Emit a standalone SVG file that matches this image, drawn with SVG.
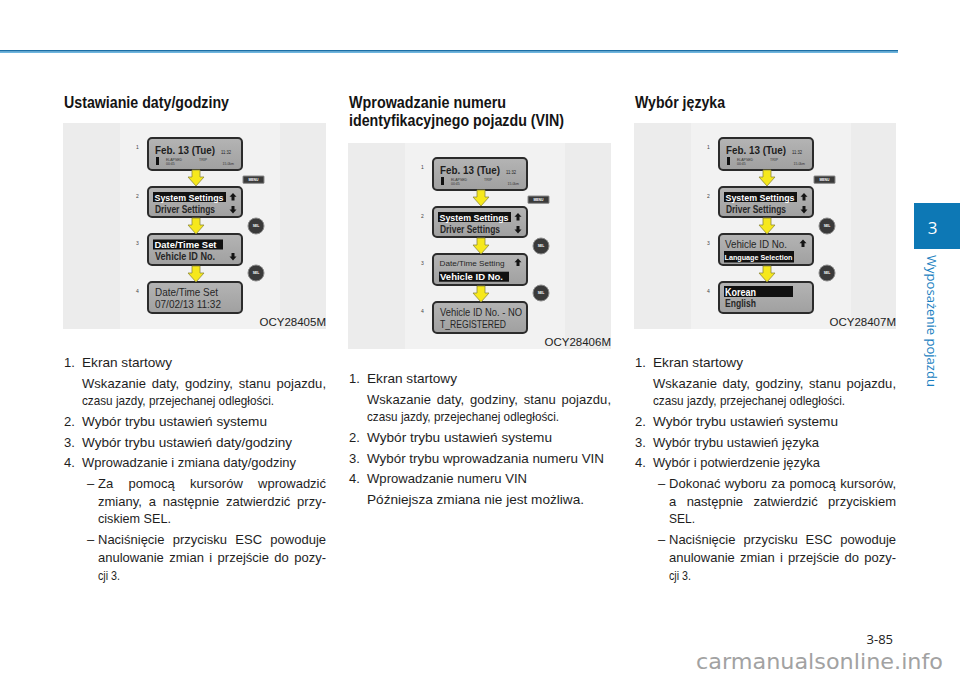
<svg xmlns="http://www.w3.org/2000/svg" width="960" height="677" viewBox="0 0 960 677">
<style>
text{font-family:"Liberation Sans",Arial,sans-serif}
.h{font-weight:bold;font-size:16.5px;fill:#141414}
.b{font-size:13px;fill:#1e1e1e}
.bg{fill:#ececec}
.bgi{fill:#f2f2f2}
.scr{fill:url(#lcd);stroke:#2b2b2b;stroke-width:2}
.st{fill:#262626;font-weight:bold;font-size:10px}
.sr{fill:#262626;font-size:10.5px}
.hl{fill:#111}
.wt{fill:#fff;font-weight:bold;font-size:9.5px}
.tiny{font-size:3.5px;fill:#333}
.num{font-size:5px;fill:#444}
.code{font-size:11.5px;fill:#222}
.btn{fill:#3a3a3a;stroke:#8a8a8a;stroke-width:1}
.btxt{font-size:3.4px;fill:#fff;font-weight:bold}
.ya{fill:#f6e81c;stroke:#8f8a3a;stroke-width:0.8}
.ba{fill:#141414}
</style>
<defs>
<linearGradient id="lcd" x1="0" y1="0" x2="0" y2="1">
<stop offset="0" stop-color="#b4b4b4"/>
<stop offset="1" stop-color="#a0a0a0"/>
</linearGradient>
<path id="yarrow" class="ya" d="M-4,0 h8 v7 h4 l-8,9 l-8,-9 h4 z"/>
<path id="uparr" class="ba" d="M0,0 l3.5,3.8 h-2 v3.6 h-3 v-3.6 h-2 z"/>
<path id="dnarr" class="ba" d="M0,7.4 l3.5,-3.8 h-2 v-3.6 h-3 v3.6 h-2 z"/>
<g id="menu"><rect class="btn" x="0" y="0" width="21" height="7.3" rx="0.5"/><text class="btxt" x="10.5" y="4.9" text-anchor="middle">MENU</text></g>
<g id="sel"><circle class="btn" cx="0" cy="0" r="8"/><text class="btxt" x="0" y="1.2" text-anchor="middle">SEL</text></g>
</defs>

<rect x="0" y="50" width="898" height="1.6" fill="#1b6fa6"/>
<rect x="0" y="51.6" width="898" height="1.2" fill="#4aa3d8"/>

<g id="headings">
<text class="h" x="64" y="108" textLength="165" lengthAdjust="spacingAndGlyphs">Ustawianie daty/godziny</text>
<text class="h" x="349" y="108" textLength="157" lengthAdjust="spacingAndGlyphs">Wprowadzanie numeru</text>
<text class="h" x="349" y="126" textLength="215" lengthAdjust="spacingAndGlyphs">identyfikacyjnego pojazdu (VIN)</text>
<text class="h" x="635" y="108" textLength="90" lengthAdjust="spacingAndGlyphs">Wybór języka</text>
</g>

<!-- Panel 1 -->
<g id="panel1" transform="translate(63,123)">
<rect class="bg" x="0" y="0" width="263" height="206"/>
<rect class="bgi" x="57" y="0" width="160" height="206"/>
<text class="num" x="73" y="26">1</text>
<text class="num" x="73" y="75">2</text>
<text class="num" x="73" y="122">3</text>
<text class="num" x="73" y="170">4</text>
<g id="p1s1">
<rect class="scr" x="85" y="15" width="94" height="32" rx="4"/>
<text x="92" y="31" style="font-size:11px;font-weight:bold;fill:#1e1e1e" textLength="60" lengthAdjust="spacingAndGlyphs">Feb. 13 (Tue)</text>
<text x="158" y="30.5" style="font-size:5px;fill:#222" textLength="10" lengthAdjust="spacingAndGlyphs">11:32</text>
<rect x="93" y="34" width="3" height="8" fill="#111"/>
<text class="tiny" x="103" y="37.5">ELAPSED</text>
<text class="tiny" x="103" y="41.5">00:45</text>
<text class="tiny" x="136" y="37.5">TRIP</text>
<text class="tiny" x="171" y="41.5" text-anchor="end">15.0km</text>
</g>
<g id="p1s2">
<rect class="scr" x="85" y="64" width="94" height="30" rx="4"/>
<rect class="hl" x="90" y="69" width="73" height="10"/>
<text class="wt" x="91.5" y="77.5" textLength="69" lengthAdjust="spacingAndGlyphs">System Settings</text>
<text class="st" x="92" y="89.5" textLength="60" lengthAdjust="spacingAndGlyphs">Driver Settings</text>
<use href="#uparr" x="170" y="70"/>
<use href="#dnarr" x="170" y="83"/>
</g>
<g id="p1s3">
<rect class="scr" x="85" y="111" width="94" height="31" rx="4"/>
<rect class="hl" x="90" y="116.5" width="70" height="10"/>
<text class="wt" x="91.5" y="125" textLength="62" lengthAdjust="spacingAndGlyphs">Date/Time Set</text>
<text class="st" x="92" y="137" textLength="60" lengthAdjust="spacingAndGlyphs">Vehicle ID No.</text>
<use href="#dnarr" x="170" y="130"/>
</g>
<g id="p1s4">
<rect class="scr" x="85" y="159" width="94" height="31" rx="4"/>
<text class="sr" x="92" y="173" textLength="63" lengthAdjust="spacingAndGlyphs">Date/Time Set</text>
<text class="sr" x="92" y="185" textLength="66" lengthAdjust="spacingAndGlyphs">07/02/13 11:32</text>
</g>
<use href="#menu" x="180" y="53"/>
<use href="#sel" x="193" y="103"/>
<use href="#sel" x="193" y="150"/>
<g id="p1conn">
<use href="#yarrow" x="133" y="47"/>
<use href="#yarrow" x="133" y="95"/>
<use href="#yarrow" x="133" y="143"/>
</g>
<text class="code" x="263" y="202.5" text-anchor="end">OCY28405M</text>
</g>

<!-- Panel 2 -->
<g id="panel2" transform="translate(348,143)">
<rect class="bg" x="0" y="0" width="263" height="206"/>
<rect class="bgi" x="57" y="0" width="160" height="206"/>
<text class="num" x="73" y="26">1</text>
<text class="num" x="73" y="75">2</text>
<text class="num" x="73" y="122">3</text>
<text class="num" x="73" y="170">4</text>
<g id="p2s1">
<rect class="scr" x="85" y="15" width="94" height="32" rx="4"/>
<text x="92" y="31" style="font-size:11px;font-weight:bold;fill:#1e1e1e" textLength="60" lengthAdjust="spacingAndGlyphs">Feb. 13 (Tue)</text>
<text x="158" y="30.5" style="font-size:5px;fill:#222" textLength="10" lengthAdjust="spacingAndGlyphs">11:32</text>
<rect x="93" y="34" width="3" height="8" fill="#111"/>
<text class="tiny" x="103" y="37.5">ELAPSED</text>
<text class="tiny" x="103" y="41.5">00:45</text>
<text class="tiny" x="136" y="37.5">TRIP</text>
<text class="tiny" x="171" y="41.5" text-anchor="end">15.0km</text>
</g>
<g id="p2s2">
<rect class="scr" x="85" y="64" width="94" height="30" rx="4"/>
<rect class="hl" x="90" y="69" width="73" height="10"/>
<text class="wt" x="91.5" y="77.5" textLength="69" lengthAdjust="spacingAndGlyphs">System Settings</text>
<text class="st" x="92" y="89.5" textLength="60" lengthAdjust="spacingAndGlyphs">Driver Settings</text>
<use href="#uparr" x="170" y="70"/>
<use href="#dnarr" x="170" y="83"/>
</g>
<g id="p2s3">
<rect class="scr" x="85" y="111" width="94" height="31" rx="4"/>
<text x="91.5" y="123" style="font-size:7.5px;fill:#262626" textLength="65" lengthAdjust="spacingAndGlyphs">Date/Time Setting</text>
<use href="#uparr" x="170" y="115.5"/>
<rect class="hl" x="91" y="128.7" width="70" height="10"/>
<text class="wt" x="92" y="137" textLength="63" lengthAdjust="spacingAndGlyphs">Vehicle ID No.</text>
</g>
<g id="p2s4">
<rect class="scr" x="85" y="159" width="94" height="31" rx="4"/>
<text class="sr" x="92" y="173" textLength="82" lengthAdjust="spacingAndGlyphs">Vehicle ID No. - NO</text>
<text class="sr" x="92" y="185" textLength="66" lengthAdjust="spacingAndGlyphs">T_REGISTERED</text>
</g>
<use href="#menu" x="180" y="53"/>
<use href="#sel" x="193" y="103"/>
<use href="#sel" x="193" y="150"/>
<g id="p2conn">
<use href="#yarrow" x="133" y="47"/>
<use href="#yarrow" x="133" y="95"/>
<use href="#yarrow" x="133" y="143"/>
</g>
<text class="code" x="263" y="202.5" text-anchor="end">OCY28406M</text>
</g>

<!-- Panel 3 -->
<g id="panel3" transform="translate(634,123)">
<rect class="bg" x="0" y="0" width="262" height="206"/>
<rect class="bgi" x="57" y="0" width="160" height="206"/>
<text class="num" x="73" y="26">1</text>
<text class="num" x="73" y="75">2</text>
<text class="num" x="73" y="122">3</text>
<text class="num" x="73" y="170">4</text>
<g id="p3s1">
<rect class="scr" x="85" y="15" width="94" height="32" rx="4"/>
<text x="92" y="31" style="font-size:11px;font-weight:bold;fill:#1e1e1e" textLength="60" lengthAdjust="spacingAndGlyphs">Feb. 13 (Tue)</text>
<text x="158" y="30.5" style="font-size:5px;fill:#222" textLength="10" lengthAdjust="spacingAndGlyphs">11:32</text>
<rect x="93" y="34" width="3" height="8" fill="#111"/>
<text class="tiny" x="103" y="37.5">ELAPSED</text>
<text class="tiny" x="103" y="41.5">00:45</text>
<text class="tiny" x="136" y="37.5">TRIP</text>
<text class="tiny" x="171" y="41.5" text-anchor="end">15.0km</text>
</g>
<g id="p3s2">
<rect class="scr" x="85" y="64" width="94" height="30" rx="4"/>
<rect class="hl" x="90" y="69" width="73" height="10"/>
<text class="wt" x="91.5" y="77.5" textLength="69" lengthAdjust="spacingAndGlyphs">System Settings</text>
<text class="st" x="92" y="89.5" textLength="60" lengthAdjust="spacingAndGlyphs">Driver Settings</text>
<use href="#uparr" x="170" y="70"/>
<use href="#dnarr" x="170" y="83"/>
</g>
<g id="p3s3">
<rect class="scr" x="85" y="111" width="94" height="31" rx="4"/>
<text class="sr" x="91" y="125" textLength="62" lengthAdjust="spacingAndGlyphs">Vehicle ID No.</text>
<use href="#uparr" x="169" y="116.5"/>
<rect class="hl" x="90" y="128" width="70" height="11.5"/>
<text class="wt" x="90.5" y="137" style="font-size:7.5px" textLength="68" lengthAdjust="spacingAndGlyphs">Language Selection</text>
</g>
<g id="p3s4">
<rect class="scr" x="85" y="159" width="94" height="31" rx="4"/>
<rect class="hl" x="90" y="163" width="69" height="11"/>
<text class="wt" x="91" y="172.5" style="font-size:10px" textLength="31" lengthAdjust="spacingAndGlyphs">Korean</text>
<text class="st" x="91" y="184" textLength="31" lengthAdjust="spacingAndGlyphs">English</text>
</g>
<use href="#menu" x="180" y="53"/>
<use href="#sel" x="193" y="103"/>
<use href="#sel" x="193" y="150"/>
<g id="p3conn">
<use href="#yarrow" x="133" y="47"/>
<use href="#yarrow" x="133" y="95"/>
<use href="#yarrow" x="133" y="143"/>
</g>
<text class="code" x="262" y="202.5" text-anchor="end">OCY28407M</text>
</g>

<!-- Column 1 text -->
<g id="col1">
<text class="b" x="64" y="367">1.</text>
<text class="b" x="82" y="367" textLength="90" lengthAdjust="spacingAndGlyphs">Ekran startowy</text>
<text class="b" x="82" y="388" style="word-spacing:2.1px" textLength="244" lengthAdjust="spacing">Wskazanie daty, godziny, stanu pojazdu,</text>
<text class="b" x="82" y="405" textLength="192" lengthAdjust="spacingAndGlyphs">czasu jazdy, przejechanej odległości.</text>
<text class="b" x="64" y="426">2.</text>
<text class="b" x="82" y="426" textLength="185" lengthAdjust="spacingAndGlyphs">Wybór trybu ustawień systemu</text>
<text class="b" x="64" y="447">3.</text>
<text class="b" x="82" y="447" textLength="210" lengthAdjust="spacingAndGlyphs">Wybór trybu ustawień daty/godziny</text>
<text class="b" x="64" y="467">4.</text>
<text class="b" x="82" y="467" textLength="214" lengthAdjust="spacingAndGlyphs">Wprowadzanie i zmiana daty/godziny</text>
<text class="b" x="87" y="488">–</text>
<text class="b" x="98" y="488" style="word-spacing:11.7px" textLength="228" lengthAdjust="spacing">Za pomocą kursorów wprowadzić</text>
<text class="b" x="98" y="506" style="word-spacing:3.2px" textLength="228" lengthAdjust="spacing">zmiany, a następnie zatwierdzić przy-</text>
<text class="b" x="98" y="523" textLength="73" lengthAdjust="spacingAndGlyphs">ciskiem SEL.</text>
<text class="b" x="87" y="544">–</text>
<text class="b" x="98" y="544" style="word-spacing:4.7px" textLength="228" lengthAdjust="spacing">Naciśnięcie przycisku ESC powoduje</text>
<text class="b" x="98" y="562" style="word-spacing:1.8px" textLength="228" lengthAdjust="spacing">anulowanie zmian i przejście do pozy-</text>
<text class="b" x="98" y="580" textLength="22" lengthAdjust="spacingAndGlyphs">cji 3.</text>
</g>

<!-- Column 2 text -->
<g id="col2">
<text class="b" x="349" y="383">1.</text>
<text class="b" x="367" y="383" textLength="90" lengthAdjust="spacingAndGlyphs">Ekran startowy</text>
<text class="b" x="367" y="404" style="word-spacing:2.1px" textLength="244" lengthAdjust="spacing">Wskazanie daty, godziny, stanu pojazdu,</text>
<text class="b" x="367" y="421" textLength="192" lengthAdjust="spacingAndGlyphs">czasu jazdy, przejechanej odległości.</text>
<text class="b" x="349" y="442">2.</text>
<text class="b" x="367" y="442" textLength="185" lengthAdjust="spacingAndGlyphs">Wybór trybu ustawień systemu</text>
<text class="b" x="349" y="463">3.</text>
<text class="b" x="367" y="463" textLength="237" lengthAdjust="spacingAndGlyphs">Wybór trybu wprowadzania numeru VIN</text>
<text class="b" x="349" y="483">4.</text>
<text class="b" x="367" y="483" textLength="160" lengthAdjust="spacingAndGlyphs">Wprowadzanie numeru VIN</text>
<text class="b" x="367" y="504" textLength="217" lengthAdjust="spacingAndGlyphs">Późniejsza zmiana nie jest możliwa.</text>
</g>

<!-- Column 3 text -->
<g id="col3">
<text class="b" x="635" y="367">1.</text>
<text class="b" x="653" y="367" textLength="90" lengthAdjust="spacingAndGlyphs">Ekran startowy</text>
<text class="b" x="653" y="388" style="word-spacing:1.85px" textLength="243" lengthAdjust="spacing">Wskazanie daty, godziny, stanu pojazdu,</text>
<text class="b" x="653" y="405" textLength="192" lengthAdjust="spacingAndGlyphs">czasu jazdy, przejechanej odległości.</text>
<text class="b" x="635" y="426">2.</text>
<text class="b" x="653" y="426" textLength="185" lengthAdjust="spacingAndGlyphs">Wybór trybu ustawień systemu</text>
<text class="b" x="635" y="447">3.</text>
<text class="b" x="653" y="447" textLength="166" lengthAdjust="spacingAndGlyphs">Wybór trybu ustawień języka</text>
<text class="b" x="635" y="467">4.</text>
<text class="b" x="653" y="467" textLength="167" lengthAdjust="spacingAndGlyphs">Wybór i potwierdzenie języka</text>
<text class="b" x="658" y="488">–</text>
<text class="b" x="669" y="488" style="word-spacing:0.75px" textLength="227" lengthAdjust="spacing">Dokonać wyboru za pomocą kursorów,</text>
<text class="b" x="669" y="506" style="word-spacing:6.8px" textLength="227" lengthAdjust="spacing">a następnie zatwierdzić przyciskiem</text>
<text class="b" x="669" y="523" textLength="26" lengthAdjust="spacingAndGlyphs">SEL.</text>
<text class="b" x="658" y="544">–</text>
<text class="b" x="669" y="544" style="word-spacing:4.4px" textLength="227" lengthAdjust="spacing">Naciśnięcie przycisku ESC powoduje</text>
<text class="b" x="669" y="562" style="word-spacing:1.6px" textLength="227" lengthAdjust="spacing">anulowanie zmian i przejście do pozy-</text>
<text class="b" x="669" y="580" textLength="22" lengthAdjust="spacingAndGlyphs">cji 3.</text>
</g>

<g id="tab">
<rect x="914" y="203" width="46" height="46" fill="#0d78b5"/>
<text x="932.5" y="234" text-anchor="middle" style="font-family:'Open Sans','Noto Sans',sans-serif;font-size:17px;fill:#fff">3</text>
<text transform="translate(927,255) rotate(90)" style="font-family:'Open Sans','Noto Sans',sans-serif;font-size:12.5px;fill:#1a7fc1" textLength="132" lengthAdjust="spacingAndGlyphs">Wyposażenie pojazdu</text>
</g>

<text x="893" y="644" text-anchor="end" style="font-family:'Open Sans','Noto Sans',sans-serif;font-size:13px;fill:#222">3-85</text>
<text x="943" y="669" text-anchor="end" style="font-family:'DejaVu Sans',sans-serif;font-size:21px;fill:#a2a2a2" textLength="247" lengthAdjust="spacingAndGlyphs">carmanualsonline.info</text>
</svg>
